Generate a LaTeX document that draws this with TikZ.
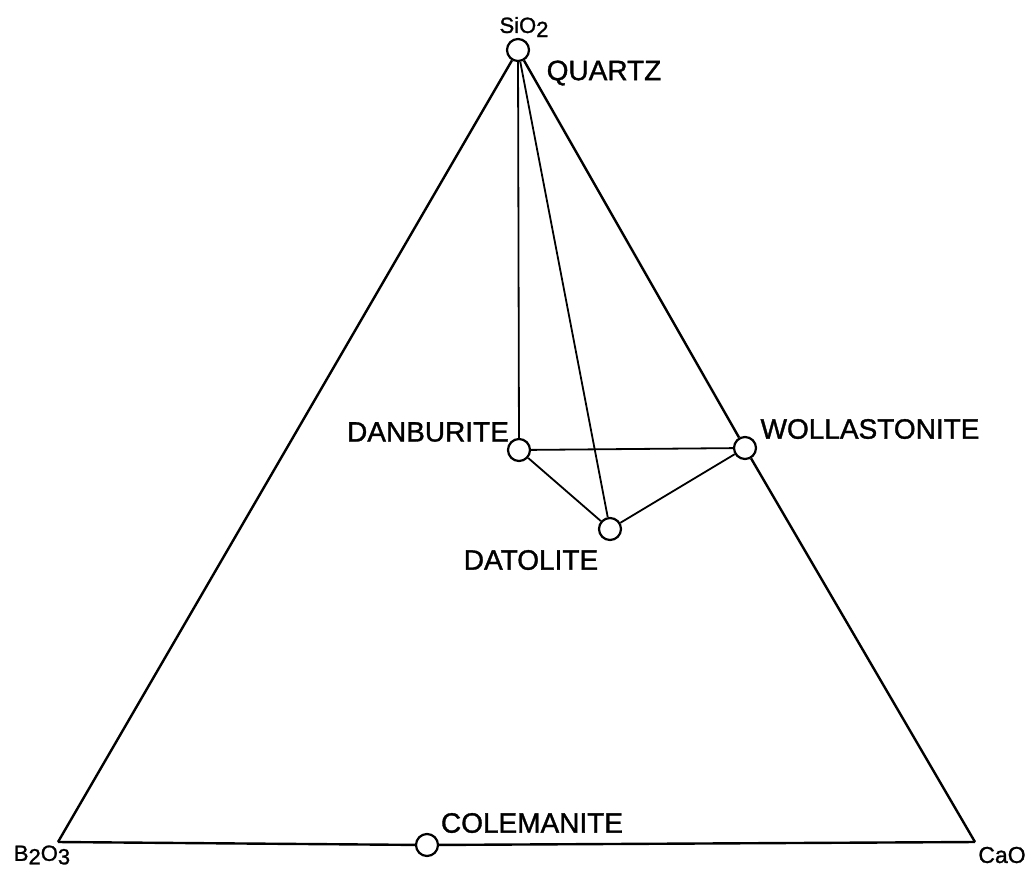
\documentclass[tikz,border=0pt]{standalone}
\usepackage{fontspec}
\setmainfont{Liberation Sans}
\newfontfamily\labfont{Liberation Sans}[FakeBold=1.2]
\begin{document}
\begin{tikzpicture}[x=1pt,y=-1pt,
  phase/.style={circle,draw,fill=white,line width=2.2pt,minimum size=22pt,inner sep=0pt},
  edge/.style={line width=2.4pt},
  tie/.style={line width=1.8pt},
  lab/.style={font=\labfont\fontsize{28}{30}\selectfont,inner sep=0pt},
  oxlab/.style={font=\labfont\fontsize{22}{24}\selectfont,inner sep=0pt}]
\useasboundingbox (0,0) rectangle (1025,868);
\coordinate (b) at (58,842);
\coordinate (c) at (975,842);
\node[phase] (si) at (518,50) {};
\node[phase] (dan) at (519,450) {};
\node[phase] (wol) at (745,448) {};
\node[phase] (dat) at (610,529) {};
\node[phase] (col) at (427,845) {};
% triangle
\draw[edge] (si) -- (b);
\draw[edge] (si) -- (wol);
\draw[edge] (wol) -- (c);
\draw[edge] (b) -- (col);
\draw[edge] (col) -- (c);
% tie lines
\draw[tie] (si) -- (dan);
\draw[tie] (si) -- (dat);
\draw[tie] (dan) -- (wol);
\draw[tie] (dan) -- (dat);
\draw[tie] (dat) -- (wol);
% labels
\node[oxlab] (lsi) at (524,27) {SiO\raisebox{-0.35ex}{2}};
\node[oxlab] (lb) at (42,855) {B\raisebox{-0.3ex}{2}O\raisebox{-0.3ex}{3}};
\node[oxlab,font=\labfont\fontsize{23}{25}\selectfont] (lc) at (1002,855) {CaO};
\node[lab] (lq) at (604,73) {QUARTZ};
\node[lab] (ldan) at (428,432) {DANBURITE};
\node[lab] (lwol) at (870,429) {WOLLASTONITE};
\node[lab] (ldat) at (531,560) {DATOLITE};
\node[lab] (lcol) at (532,823) {COLEMANITE};
\end{tikzpicture}
\end{document}
